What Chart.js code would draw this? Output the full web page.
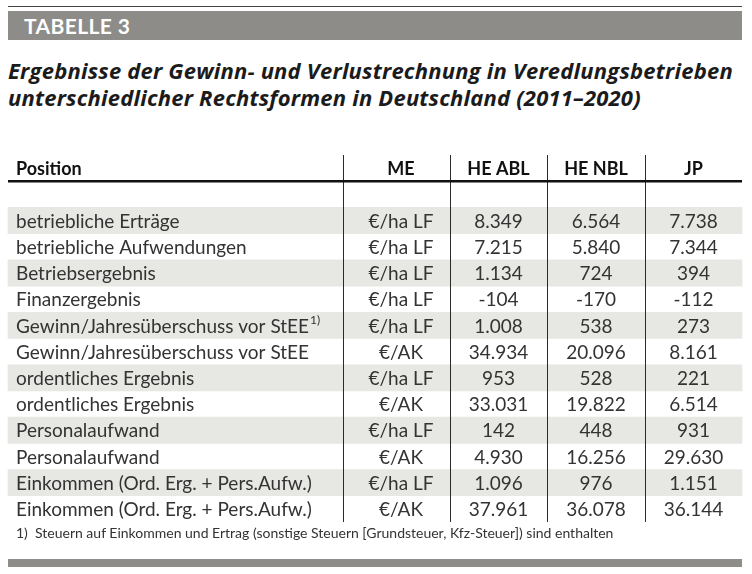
<!DOCTYPE html>
<html lang="de">
<head>
<meta charset="utf-8">
<script src="https://cdn.jsdelivr.net/npm/chart.js@4.4.1/dist/chart.umd.min.js"></script>
<style>
  html, body { margin: 0; padding: 0; background: #fff; }
  body { width: 752px; height: 574px; position: relative; overflow: hidden; font-family: Lato, sans-serif; }
  #table { position: absolute; left: 0; top: 0; }
  .topline { position: absolute; left: 8px; top: 6px; width: 734px; height: 1px; background: #444; }
  .tag { position: absolute; left: 8px; top: 11px; width: 734px; height: 29px; background: #8d8c88;
         color: #fff; font-weight: 700; font-size: 21px; line-height: 29px; letter-spacing: 0.4px; }
  .tag span { margin-left: 16px; }
  .title { position: absolute; left: 8px; top: 57px; font-family: "Open Sans", sans-serif; font-weight: 700; font-style: italic;
           font-size: 22px; line-height: 27px; letter-spacing: 0.2px; color: #1b1b1b; white-space: nowrap; }
  .note { position: absolute; left: 16px; top: 524px; font-size: 14px; color: #333; white-space: nowrap; }
  .bottombar { position: absolute; left: 8px; top: 559px; width: 734px; height: 8px; background: #8e8d8a; }
</style>
</head>
<body>
<div class="topline"></div>
<div class="tag"><span>TABELLE 3</span></div>
<div class="title">Ergebnisse der Gewinn- und Verlustrechnung in Veredlungsbetrieben<br>unterschiedlicher Rechtsformen in Deutschland (2011–2020)</div>
<canvas id="table" width="752" height="574"></canvas>
<div class="note">1)&nbsp; Steuern auf Einkommen und Ertrag (sonstige Steuern [Grundsteuer, Kfz-Steuer]) sind enthalten</div>
<div class="bottombar"></div>
<script>
  // table content
  const headers = ['Position', 'ME', 'HE ABL', 'HE NBL', 'JP'];
  const positions = ['betriebliche Erträge', 'betriebliche Aufwendungen', 'Betriebsergebnis', 'Finanzergebnis',
    'Gewinn/Jahresüberschuss vor StEE', 'Gewinn/Jahresüberschuss vor StEE', 'ordentliches Ergebnis',
    'ordentliches Ergebnis', 'Personalaufwand', 'Personalaufwand',
    'Einkommen (Ord. Erg. + Pers.Aufw.)', 'Einkommen (Ord. Erg. + Pers.Aufw.)'];
  const footnotes = ['', '', '', '', '1)', '', '', '', '', '', '', ''];
  const units = ['€/ha LF', '€/ha LF', '€/ha LF', '€/ha LF', '€/ha LF', '€/AK', '€/ha LF', '€/AK',
    '€/ha LF', '€/AK', '€/ha LF', '€/AK'];
  const heAbl = [8349, 7215, 1134, -104, 1008, 34934, 953, 33031, 142, 4930, 1096, 37961];
  const heNbl = [6564, 5840, 724, -170, 538, 20096, 528, 19822, 448, 16256, 976, 36078];
  const jp = [7738, 7344, 394, -112, 273, 8161, 221, 6514, 931, 29630, 1151, 36144];

  // layout (x in page pixels, used through the x scale)
  const tableLeft = 8, tableRight = 742;
  const colLines = [343, 450, 547, 645];
  const colCenters = [16, 401, 498.5, 596, 693.5];

  function fmt(n) {
    const s = String(Math.abs(n)).replace(/\B(?=(\d{3})+(?!\d))/g, '.');
    return (n < 0 ? '-' : '') + s;
  }

  // rows: header, blank spacer, then data rows
  const rowLabels = ['head', 'blank'].concat(positions.map((p, i) => 'r' + i));
  const bands = rowLabels.map((r, i) => (i >= 2 && (i - 2) % 2 === 0) ? [tableLeft, tableRight] : null);

  const tablePlugin = {
    id: 'tableText',
    afterDatasetsDraw(chart) {
      const c = chart.ctx, x = chart.scales.x, y = chart.scales.y;
      const top = chart.chartArea.top, bottom = chart.chartArea.bottom;
      c.save();
      // column lines
      c.strokeStyle = '#2a2a2a';
      c.lineWidth = 1;
      colLines.forEach(v => {
        const px = Math.round(x.getPixelForValue(v)) + 0.5;
        c.beginPath(); c.moveTo(px, top); c.lineTo(px, bottom); c.stroke();
      });
      // header rule
      const ruleY = (y.getPixelForValue(0) + y.getPixelForValue(1)) / 2;
      c.lineWidth = 2.4;
      c.strokeStyle = '#111';
      c.beginPath(); c.moveTo(x.getPixelForValue(tableLeft), ruleY); c.lineTo(x.getPixelForValue(tableRight), ruleY); c.stroke();

      // header text
      c.textBaseline = 'middle';
      c.fillStyle = '#111';
      c.font = 'bold 18px Lato';
      headers.forEach((h, j) => {
        c.textAlign = j === 0 ? 'left' : 'center';
        c.fillText(h, x.getPixelForValue(colCenters[j]), y.getPixelForValue(0) + 1);
      });

      // body
      c.fillStyle = '#333';
      positions.forEach((p, i) => {
        const py = y.getPixelForValue(i + 2) + 1;
        c.font = '19px Lato';
        c.textAlign = 'left';
        const px = x.getPixelForValue(colCenters[0]);
        c.fillText(p, px, py);
        if (footnotes[i]) {
          const w = c.measureText(p).width;
          c.font = '12px Lato';
          c.fillText(footnotes[i], px + w + 1, py - 6);
          c.font = '19px Lato';
        }
        c.textAlign = 'center';
        c.fillText(units[i], x.getPixelForValue(colCenters[1]), py);
        c.fillText(fmt(heAbl[i]), x.getPixelForValue(colCenters[2]), py);
        c.fillText(fmt(heNbl[i]), x.getPixelForValue(colCenters[3]), py);
        c.fillText(fmt(jp[i]), x.getPixelForValue(colCenters[4]), py);
      });
      c.restore();
    }
  };

  new Chart(document.getElementById('table'), {
    type: 'bar',
    data: {
      labels: rowLabels,
      datasets: [{
        data: bands,
        backgroundColor: '#e7e7e4',
        borderWidth: 0,
        barPercentage: 1,
        categoryPercentage: 1
      }]
    },
    options: {
      indexAxis: 'y',
      responsive: false,
      animation: false,
      events: [],
      layout: { padding: { top: 155, bottom: 52, left: 0, right: 0 } },
      plugins: { legend: { display: false }, tooltip: { enabled: false }, title: { display: false } },
      scales: {
        x: { type: 'linear', min: 0, max: 752, display: false },
        y: { display: false, offset: true }
      }
    },
    plugins: [tablePlugin]
  });
</script>
</body>
</html>
